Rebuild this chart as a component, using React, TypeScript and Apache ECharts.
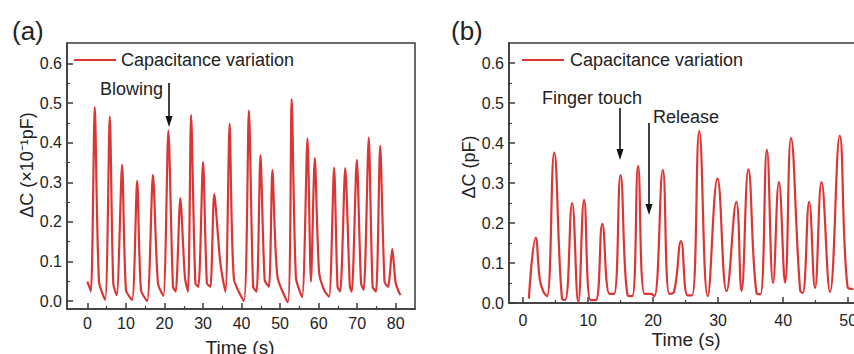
import React, { useEffect, useRef } from "react";
import * as echarts from "echarts";

// Panel (a): blowing test, ΔC (×10^-1 pF) vs time (s)
const timeA = [
  0, 0.9, 1.9, 3.0, 4.6,
  5.8, 6.7, 7.6,
  9.0, 10.0, 11.6,
  12.9, 13.9, 15.5,
  17.0, 18.3, 19.7,
  21.0, 22.2, 22.9,
  24.1, 25.3, 26.1,
  26.9, 28.0, 28.8,
  30.0, 31.0, 31.9,
  32.9, 34.5, 35.8,
  36.9, 38.0, 40.6,
  41.9, 43.0, 43.9,
  44.9, 46.0, 47.1,
  48.0, 49.3, 52.0,
  53.0, 54.1, 55.7,
  57.1, 58.0,
  59.0, 60.1, 61.4, 62.7,
  64.0, 64.9, 65.6,
  66.9, 68.1, 68.6,
  69.9, 71.0, 71.7,
  73.0, 74.0, 74.9,
  75.96, 77.1, 78.0,
  79.1, 80.0, 81.2,
];
const valueA = [
  0.049, 0.024, 0.49, 0.049, 0.003,
  0.466, 0.045, 0.015,
  0.344, 0.028, 0.003,
  0.304, 0.028, 0.0,
  0.319, 0.045, 0.013,
  0.431, 0.036, 0.024,
  0.26, 0.06, 0.024,
  0.47, 0.045, 0.036,
  0.352, 0.045, 0.036,
  0.27, 0.095, 0.024,
  0.448, 0.057, 0.0,
  0.481, 0.036, 0.024,
  0.369, 0.053, 0.036,
  0.331, 0.062, -0.003,
  0.51, 0.06, 0.01,
  0.411, 0.049,
  0.361, 0.074, 0.028, 0.011,
  0.337, 0.036, 0.024,
  0.336, 0.036, 0.024,
  0.357, 0.045, 0.028,
  0.413, 0.036, 0.024,
  0.392, 0.049, 0.036,
  0.132, 0.045, 0.015,
];

// Panel (b): finger touch test, ΔC (pF) vs time (s)
const timeB = [
  0.9, 1.96, 2.6, 3.15, 3.7,
  4.8, 6.0, 6.5,
  7.55, 8.5,
  9.4, 10.4, 11.2,
  12.2, 13.3, 14.0,
  15.0, 16.1, 16.8,
  17.7, 18.7, 19.65, 20.2,
  21.5, 22.5, 23.2,
  24.3, 25.3, 26.0,
  27.1, 28.4,
  29.9, 31.3,
  32.8, 33.6,
  34.65, 35.9, 36.5,
  37.5, 38.45,
  39.35, 40.3,
  41.2, 42.6, 43.0,
  44.0, 44.9,
  45.9, 47.2,
  48.7, 49.9, 50.8,
];
const valueB = [
  0.011, 0.163, 0.057, 0.028, 0.017,
  0.376, 0.011, 0.008,
  0.25, 0.003,
  0.258, 0.007, 0.007,
  0.198, 0.023, 0.023,
  0.32, 0.019, 0.017,
  0.342, 0.023, 0.023, 0.017,
  0.332, 0.023, 0.027,
  0.155, 0.019, 0.019,
  0.43, 0.017,
  0.311, 0.03,
  0.253, 0.03,
  0.334, 0.025, 0.022,
  0.383, 0.05,
  0.302, 0.051,
  0.412, 0.032, 0.025,
  0.253, 0.038,
  0.302, 0.028,
  0.418, 0.04, 0.035,
];

const xMajorA = [0, 10, 20, 30, 40, 50, 60, 70, 80];
const xMinorA = [5, 15, 25, 35, 45, 55, 65, 75];
const xMajorB = [0, 10, 20, 30, 40, 50];
const xMinorB = [5, 15, 25, 35, 45];
const yMajor = [0, 0.1, 0.2, 0.3, 0.4, 0.5, 0.6];
const yMinor = [0.05, 0.15, 0.25, 0.35, 0.45, 0.55];

const FONT = "'Liberation Sans', Arial, sans-serif";
const TXT = "#222";
const AXC = "#3a3a3a";
const RED = "#dc3535";

function xAxisPair(grid: number, min: number, max: number, major: number[], minor: number[], margin: number) {
  const base = {
    gridIndex: grid,
    type: "value" as const,
    position: "bottom" as const,
    min,
    max,
    splitLine: { show: false },
  };
  return [
    {
      ...base,
      axisLine: { show: true, onZero: false, lineStyle: { color: AXC, width: 1.5 } },
      axisTick: { show: true, inside: true, length: 6, customValues: major, lineStyle: { color: AXC, width: 1.5 } },
      axisLabel: {
        show: true,
        customValues: major,
        fontSize: 16,
        color: TXT,
        fontFamily: FONT,
        margin,
        formatter: (v: number) => String(v),
      },
    },
    {
      ...base,
      axisLine: { show: false, onZero: false },
      axisTick: { show: true, inside: true, length: 3, customValues: minor, lineStyle: { color: AXC, width: 1.2 } },
      axisLabel: { show: false },
    },
  ];
}

function yAxisPair(grid: number, min: number, max: number) {
  const base = {
    gridIndex: grid,
    type: "value" as const,
    position: "left" as const,
    min,
    max,
    splitLine: { show: false },
  };
  return [
    {
      ...base,
      axisLine: { show: true, onZero: false, lineStyle: { color: AXC, width: 1.5 } },
      axisTick: { show: true, inside: true, length: 6, customValues: yMajor, lineStyle: { color: AXC, width: 1.5 } },
      axisLabel: {
        show: true,
        customValues: yMajor,
        fontSize: 16,
        color: TXT,
        fontFamily: FONT,
        margin: 5,
        formatter: (v: number) => v.toFixed(1),
      },
    },
    {
      ...base,
      axisLine: { show: false, onZero: false },
      axisTick: { show: true, inside: true, length: 3, customValues: yMinor, lineStyle: { color: AXC, width: 1.2 } },
      axisLabel: { show: false },
    },
  ];
}

function arrow(x: number, y1: number, y2: number) {
  return [
    { type: "line", shape: { x1: x, y1, x2: x, y2: y2 - 8 }, style: { stroke: "#111", lineWidth: 1.6 } },
    { type: "polygon", shape: { points: [[x - 3.5, y2 - 11], [x + 3.5, y2 - 11], [x, y2]] }, style: { fill: "#111" } },
  ];
}

function txt(x: number, y: number, text: string, size: number, align = "left", rotation = 0) {
  return {
    type: "text",
    x,
    y,
    rotation,
    style: {
      text,
      fontSize: size,
      fontFamily: FONT,
      fill: TXT,
      align,
      verticalAlign: "middle",
    },
  };
}

export default function App() {
  const ref = useRef<HTMLDivElement>(null);
  useEffect(() => {
    if (!ref.current) return;
    const chart = echarts.init(ref.current, null, { renderer: "svg" });
    const dataA = timeA.map((t, i) => [t, valueA[i]]);
    const dataB = timeB.map((t, i) => [t, valueB[i]]);
    chart.setOption({
      animation: false,
      backgroundColor: "#ffffff",
      grid: [
        { left: 67, top: 43, width: 348, height: 266, show: true, borderColor: AXC, borderWidth: 1.5, containLabel: false },
        { left: 509, top: 43, width: 360, height: 260, show: true, borderColor: AXC, borderWidth: 1.5, containLabel: false },
      ],
      xAxis: [
        ...xAxisPair(0, -5.3, 85, xMajorA, xMinorA, 6),
        ...xAxisPair(1, -2.15, 53.2, xMajorB, xMinorB, 9),
      ],
      yAxis: [...yAxisPair(0, -0.02, 0.652), ...yAxisPair(1, 0, 0.65)],
      series: [
        {
          type: "line",
          name: "Capacitance variation",
          xAxisIndex: 0,
          yAxisIndex: 0,
          data: dataA,
          showSymbol: false,
          smooth: 0.25,
          lineStyle: { color: RED, width: 2.2 },
        },
        {
          type: "line",
          name: "Capacitance variation",
          xAxisIndex: 2,
          yAxisIndex: 2,
          data: dataB,
          showSymbol: false,
          smooth: 0.45,
          lineStyle: { color: RED, width: 2.2 },
        },
      ],
      graphic: [
        txt(12, 31, "(a)", 26),
        txt(451, 31, "(b)", 26),
        { type: "line", shape: { x1: 74, y1: 60, x2: 116, y2: 60 }, style: { stroke: RED, lineWidth: 2 } },
        txt(121, 60, "Capacitance variation", 18),
        { type: "line", shape: { x1: 522, y1: 60, x2: 564, y2: 60 }, style: { stroke: RED, lineWidth: 2 } },
        txt(570, 60, "Capacitance variation", 18),
        txt(100, 89, "Blowing", 18),
        ...arrow(169, 83, 127),
        txt(542, 98, "Finger touch", 18),
        ...arrow(620, 108, 160),
        txt(653, 117, "Release", 18),
        ...arrow(649, 123, 215),
        txt(27, 165, "ΔC (×10⁻¹pF)", 18, "center", Math.PI / 2),
        txt(469, 167, "ΔC (pF)", 18, "center", Math.PI / 2),
        txt(240, 347, "Time (s)", 19, "center"),
        txt(686, 339, "Time (s)", 19, "center"),
      ],
    });
    return () => chart.dispose();
  }, []);
  return (
    <div style={{ position: "fixed", left: 0, top: 0, width: 854, height: 354, overflow: "hidden", background: "#fff" }}>
      <div ref={ref} style={{ width: 900, height: 354 }} />
    </div>
  );
}
